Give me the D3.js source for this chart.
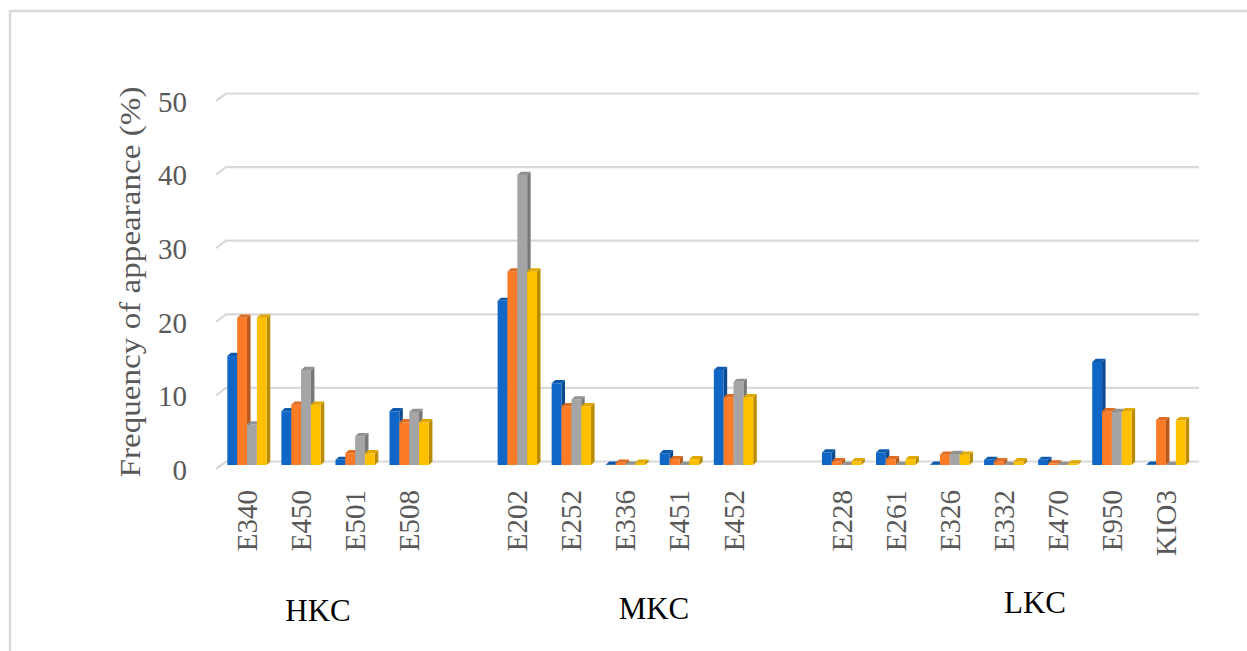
<!DOCTYPE html>
<html>
<head>
<meta charset="utf-8">
<script src="https://cdn.jsdelivr.net/npm/d3@7"></script>
<style>
  html, body { margin: 0; padding: 0; background: #ffffff; }
  svg { display: block; }
  text { font-family: "Liberation Serif", "Times New Roman", serif; }
</style>
</head>
<body>
<svg id="chart" width="1247" height="651"></svg>
<script>
// Additive groups and their E-number categories
const groups = ["HKC", "MKC", "LKC"];
const groupSizes = [4, 5, 7];
const categories = ["E340", "E450", "E501", "E508",
                    "E202", "E252", "E336", "E451", "E452",
                    "E228", "E261", "E326", "E332", "E470", "E950", "KIO3"];

// Frequency of appearance (%) for the four series
const seriesNames = ["s1", "s2", "s3", "s4"];
const s1 = [14.8, 7.3, 0.7, 7.3, 22.3, 11.1, 0.05, 1.6, 12.9, 1.7, 1.7, 0.05, 0.7, 0.7, 14.0, 0.05];
const s2 = [20.0, 8.2, 1.6, 5.8, 26.3, 8.0, 0.3, 0.8, 9.2, 0.5, 0.8, 1.4, 0.5, 0.2, 7.3, 6.1];
const s3 = [5.5, 12.9, 3.9, 7.2, 39.4, 8.9, 0.05, 0, 11.3, 0, 0, 1.5, 0, 0, 7.2, 0];
const s4 = [20.0, 8.2, 1.6, 5.8, 26.3, 8.0, 0.3, 0.8, 9.2, 0.5, 0.8, 1.4, 0.5, 0.2, 7.3, 6.1];
const seriesValues = [s1, s2, s3, s4];
const yTicks = [0, 10, 20, 30, 40, 50];

const colors = ["#0f66c4", "#fb7b27", "#a5a5a5", "#ffc000"];

const svg = d3.select("#chart");

// Frame around the figure
svg.append("path")
  .attr("d", "M10,651 L10,11 L1247,11")
  .attr("fill", "none")
  .attr("stroke", "#d9d9d9")
  .attr("stroke-width", 2.5);

// Slots: categories with an empty slot between groups
const slots = [];
let ci = 0;
groups.forEach((g, gi) => {
  for (let k = 0; k < groupSizes[gi]; k++) slots.push(categories[ci++]);
  if (gi < groups.length - 1) slots.push("gap" + gi);
});

const x = d3.scaleBand().domain(slots).range([220, 1193]).padding(0);
const clusterW = 39.4;
const xs = d3.scaleBand().domain(seriesNames).range([0, clusterW]).padding(0);
const y = d3.scaleLinear().domain([0, 50]).range([465, 465 - 368]);

const depthX = 3.5, depthY = 3.2;   // oblique depth of each column
const wallX = 10, wallY = 7.5;      // depth of the back wall

// Gridlines on the back wall with the floor/wall corner stub
const grid = svg.append("g");
yTicks.forEach(t => {
  const yb = y(t) - 3.5;
  grid.append("path")
    .attr("d", `M${226 - wallX},${yb + wallY} L226,${yb} L1199,${yb}`)
    .attr("fill", "none")
    .attr("stroke", "#d9d9d9")
    .attr("stroke-width", 2.2);
});

// Y axis labels
const yAxis = svg.append("g")
  .attr("transform", "translate(187,5)")
  .call(d3.axisLeft(y).tickValues(yTicks).tickSize(0).tickPadding(0));
yAxis.select(".domain").remove();
yAxis.selectAll("text")
  .attr("fill", "#595959")
  .style("font-size", "29px")
  .style("font-family", "'Liberation Serif', serif");

// X axis category labels (rotated)
const xAxis = svg.append("g")
  .attr("transform", "translate(0,490)")
  .call(d3.axisBottom(x).tickSize(0).tickFormat(d => d.startsWith("gap") ? "" : d));
xAxis.select(".domain").remove();
xAxis.selectAll("text")
  .attr("x", 0).attr("y", 0).attr("dy", 0)
  .attr("transform", "translate(10,0) rotate(-90)")
  .attr("text-anchor", "end")
  .attr("fill", "#595959")
  .style("font-size", "29px")
  .style("font-family", "'Liberation Serif', serif");

// 3D columns, drawn left to right so each front face hides its left neighbour's side
const bars = svg.append("g");
categories.forEach((cat, i) => {
  const x0c = x(cat) + (x.bandwidth() - clusterW) / 2;
  seriesNames.forEach((s, si) => {
    const v = seriesValues[si][i];
    const w = xs.bandwidth();
    const x0 = x0c + xs(s);
    const yt = y(v), yb = y(0);
    const base = d3.color(colors[si]);
    const side = base.darker(0.9).formatHex();
    const top = base.darker(0.35).formatHex();
    const g = bars.append("g");
    // side face
    g.append("path")
      .attr("d", `M${x0 + w},${yt} L${x0 + w + depthX},${yt - depthY} L${x0 + w + depthX},${yb - depthY} L${x0 + w},${yb} Z`)
      .attr("fill", side);
    // front face
    g.append("rect")
      .attr("x", x0).attr("y", yt)
      .attr("width", w).attr("height", Math.max(0, yb - yt))
      .attr("fill", colors[si]);
    // top face
    g.append("path")
      .attr("d", `M${x0},${yt} L${x0 + depthX},${yt - depthY} L${x0 + w + depthX},${yt - depthY} L${x0 + w},${yt} Z`)
      .attr("fill", top);
  });
});

// Y axis title
svg.append("text")
  .attr("transform", "translate(140,282) rotate(-90)")
  .attr("text-anchor", "middle")
  .attr("textLength", 391)
  .attr("lengthAdjust", "spacingAndGlyphs")
  .attr("fill", "#595959")
  .style("font-size", "29px")
  .text("Frequency of appearance (%)");

// Group labels
const groupLabelPos = [[318, 621], [654, 619], [1035, 613]];
svg.append("g").selectAll("text")
  .data(groups)
  .join("text")
  .attr("x", (d, i) => groupLabelPos[i][0])
  .attr("y", (d, i) => groupLabelPos[i][1])
  .attr("text-anchor", "middle")
  .attr("fill", "#000000")
  .style("font-size", "31px")
  .text(d => d);
</script>
</body>
</html>
